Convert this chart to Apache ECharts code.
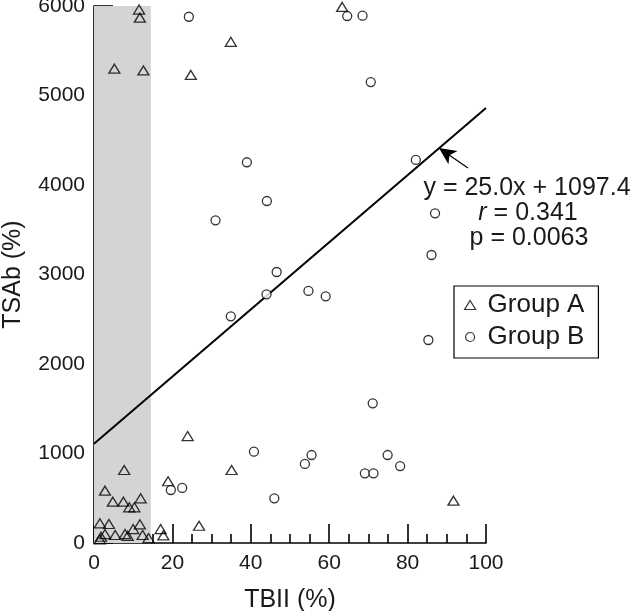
<!DOCTYPE html>
<html>
<head>
<meta charset="utf-8">
<script src="https://cdn.jsdelivr.net/npm/echarts@6/dist/echarts.min.js"></script>
<style>html,body{margin:0;padding:0;background:#fff}#c{width:640px;height:611px}</style>
</head>
<body>
<div id="c"></div>
<script>
const seriesNames = ['Group A', 'Group B'];
const groupA = [
  [11.5,5960],[11.7,5870],[5.2,5300],[12.6,5280],[24.7,5230],[34.9,5600],[63.3,5990],
  [23.9,1195],[35.1,816],[18.9,690],[91.7,473],[26.8,193],
  [7.7,816],[2.8,585],[4.8,462],[7.5,462],[11.9,499],[9.0,399],[10.3,399],
  [1.5,220],[3.8,212],[11.7,209],[10.0,156],[17.0,156],
  [7.9,100],[8.6,80],[5.4,89],[2.8,100],[12.4,89],[17.7,85],[1.8,70],[1.5,41],[13.9,55]
];
const groupB = [
  [24.2,5880],[64.6,5888],[68.5,5892],[70.6,5150],[39.0,4254],[44.1,3821],[31.0,3605],
  [82.1,4280],[87.0,3684],[86.1,3218],[85.3,2268],[46.6,3028],[44.0,2779],[34.9,2533],
  [54.7,2816],[59.1,2756],[71.1,1561],[40.8,1020],[53.8,883],[55.5,983],[69.1,779],
  [71.3,779],[74.9,983],[78.1,860],[46.0,499],[19.6,592],[22.5,615]
];
const regressionLine = [[0,1110],[100,4860]];
const arrowFromTo = [[95.4,4190],[88.0,4413]];
const shadedX = [0, 14.5];
const shadedY = [0, 6000];
const annotationLines = ['y = 25.0x + 1097.4', '{i|r} = 0.341', 'p = 0.0063'];
const xAxisTitle = 'TBII (%)';
const yAxisTitle = 'TSAb (%)';

const FONT = 'Liberation Sans, Arial, sans-serif';
const chart = echarts.init(document.getElementById('c'), null, {renderer:'canvas'});
const axisCommon = {
  axisLine: {show: true, onZero: false, lineStyle: {color: '#000', width: 1.6}},
  axisTick: {show: true, inside: true, length: 19, lineStyle: {color: '#000', width: 1.6}},
  minorTick: {show: true, length: 9, lineStyle: {color: '#000', width: 1.6}},
  splitLine: {show: false},
  axisLabel: {color: '#1a1a1a', fontFamily: FONT, fontSize: 21, showMinLabel: true, showMaxLabel: true,
    formatter: v => String(v)},
  nameLocation: 'middle',
  nameTextStyle: {color: '#1a1a1a', fontFamily: FONT, fontSize: 25}
};
const textStyleBase = {fontFamily: FONT, fontSize: 25, fill: '#1a1a1a', align: 'center', verticalAlign: 'middle'};
const annotationPos = [[527, 188], [528, 213], [529, 238]];
chart.setOption({
  animation: false,
  backgroundColor: '#fff',
  grid: {left: 94, right: 154, top: 6, bottom: 68, containLabel: false, outerBoundsMode: 'none'},
  xAxis: Object.assign({}, axisCommon, {
    type: 'value', min: 0, max: 100, interval: 20,
    minorTick: Object.assign({}, axisCommon.minorTick, {splitNumber: 4}),
    axisLabel: Object.assign({}, axisCommon.axisLabel, {margin: 10}),
    name: xAxisTitle, nameGap: 45
  }),
  yAxis: Object.assign({}, axisCommon, {
    type: 'value', min: 0, max: 6000, interval: 1000,
    minorTick: Object.assign({}, axisCommon.minorTick, {splitNumber: 5}),
    axisLabel: Object.assign({}, axisCommon.axisLabel, {margin: 9}),
    name: yAxisTitle, nameGap: 68
  }),
  legend: {
    orient: 'vertical', left: 454, top: 286,
    data: seriesNames,
    itemWidth: 11, itemHeight: 9, itemGap: 6,
    padding: [6, 14, 8, 10],
    borderColor: '#000', borderWidth: 1.2,
    textStyle: {fontFamily: FONT, fontSize: 26, color: '#1a1a1a', padding: [0, 0, 0, 7]},
    itemStyle: {color: '#fff', borderColor: '#000', borderWidth: 1.2}
  },
  series: [
    {
      name: 'shade', type: 'line', data: [], z: 0, silent: true,
      markArea: {silent: true, itemStyle: {color: '#d4d4d4'},
        data: [[{coord: [shadedX[0], shadedY[0]]}, {coord: [shadedX[1], shadedY[1]]}]]}
    },
    {
      name: 'fit', type: 'line', data: regressionLine, symbol: 'none', z: 2,
      lineStyle: {color: '#000', width: 2},
      markLine: {
        silent: true, symbol: ['none', 'arrow'], symbolSize: [12, 17],
        lineStyle: {color: '#000', width: 1.2, type: 'solid'},
        label: {show: false},
        data: [[{coord: arrowFromTo[0]}, {coord: arrowFromTo[1]}]]
      }
    },
    {
      name: seriesNames[0], type: 'scatter', data: groupA, symbol: 'triangle', symbolSize: [11, 9], z: 3,
      itemStyle: {color: 'rgba(0,0,0,0)', borderColor: '#000', borderWidth: 1.3}
    },
    {
      name: seriesNames[1], type: 'scatter', data: groupB, symbol: 'circle', symbolSize: 9, z: 4,
      itemStyle: {color: '#fff', borderColor: '#000', borderWidth: 1.3}
    }
  ],
  graphic: annotationLines.map((t, i) => ({
    type: 'text', x: annotationPos[i][0], y: annotationPos[i][1], z: 10,
    style: Object.assign({text: t, rich: {i: {fontStyle: 'italic', fontFamily: FONT, fontSize: 25, fill: '#1a1a1a'}}}, textStyleBase)
  }))
});
</script>
</body>
</html>
